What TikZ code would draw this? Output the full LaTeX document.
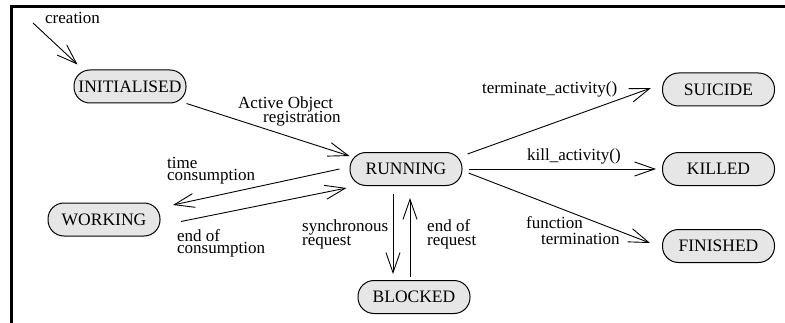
\documentclass[tikz,border=0pt]{standalone}
\usepackage{fontspec}
\setmainfont{Liberation Serif}
\usetikzlibrary{arrows.meta,calc}
\definecolor{nodefill}{RGB}{230,230,230}
\begin{document}
\begin{tikzpicture}[x=1pt,y=1pt,
  state/.style={draw=black, line width=1pt, fill=nodefill, rounded corners=16pt,
    minimum width=112pt, minimum height=33pt, inner sep=0pt,
    font=\fontsize{17.5}{20}\selectfont},
  lbl/.style={anchor=base west, inner sep=0pt, font=\fontsize{17}{20}\selectfont},
  conn/.style={line width=0.9pt, -{Straight Barb[length=20pt,width=14pt,line width=0.9pt]}},
  framestyle/.style={line width=3pt}]
\useasboundingbox (0,0) rectangle (785,322);
% frame
\draw[framestyle] (11.5,-5) -- (11.5,315.5) -- (800,315.5);
% states
\node[state] (init)  at (130,235.5) {INITIALISED};
\node[state] (run)   at (406,153)   {RUNNING};
\node[state] (work)  at (104,102.5) {WORKING};
\node[state] (block) at (414,25)    {BLOCKED};
\node[state] (suic)  at (718.5,232.5) {SUICIDE};
\node[state] (kill)  at (718.5,153) {KILLED};
\node[state] (fin)   at (718.5,76)  {FINISHED};
% creation
\coordinate (cstart) at (33,299);
\draw[conn] (cstart) -- ($(init.north west)+(4,5)$);
\node[lbl] (lcre) at (45,298) {creation};
% registration
\draw[conn] (init.south east) -- ($(run.north west)+(0,-4)$);
\node[lbl] (lreg1) at (238,213) {Active Object};
\node[lbl] (lreg2) at (263,200) {registration};
% working
\draw[conn] ($(run.west)+(-10,0)$) -- ($(work.east)+(12.5,14.5)$);
\node[lbl] (ltc1) at (167,154) {time};
\node[lbl] (ltc2) at (167,142) {consumption};
\draw[conn] ($(work.east)+(20.5,-2)$) -- ($(run.west)+(-3,-19)$);
\node[lbl] (lec1) at (177,81) {end of};
\node[lbl] (lec2) at (177,69) {consumption};
% blocked
\draw[conn] ($(run.south)+(-13,-8)$) -- ($(block.north)+(-21,6)$);
\draw[conn] ($(block.north)+(-4,3)$) -- ($(run.south)+(4,-12)$);
\node[lbl] (lsr1) at (302,91) {synchronous};
\node[lbl] (lsr2) at (302,77) {request};
\node[lbl] (ler1) at (427,91) {end of};
\node[lbl] (ler2) at (427,77) {request};
% terminations
\draw[conn] ($(run.north east)+(5,-2)$) -- ($(suic.west)+(-11,1.5)$);
\node[lbl] (lterm) at (482,228) {terminate\_activity()};
\draw[conn] ($(run.east)+(6,0)$) -- ($(kill.west)+(-6,0)$);
\node[lbl] (lkill) at (527,161) {kill\_activity()};
\draw[conn] ($(run.east)+(6,-4)$) -- ($(fin.west)+(-12,3)$);
\node[lbl] (lfun1) at (526,94) {function};
\node[lbl] (lfun2) at (541,78) {termination};
\end{tikzpicture}
\end{document}
